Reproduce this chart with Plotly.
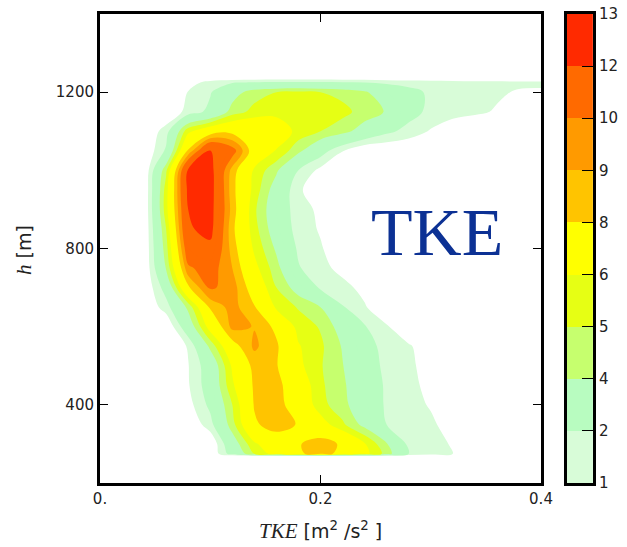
import plotly.graph_objects as go

# TKE bins (m^2/s^2) and height rows (m)
tke = [0.00, 0.02, 0.04, 0.06, 0.08, 0.10, 0.12, 0.14, 0.16, 0.18, 0.20,
       0.22, 0.24, 0.26, 0.28, 0.30, 0.32, 0.34, 0.36, 0.38, 0.40]
heights = [268, 275, 300, 350, 400, 450, 500, 550, 600, 650, 700, 750, 800,
           850, 900, 950, 1000, 1050, 1100, 1150, 1200, 1225, 1238]

# density values per height row (bottom to top)
d268 = [0] * 21
d275 = [0, 0, 0, 0, 0, 0, 2.6, 5.0, 6.6, 7.8, 8.5, 7.6, 6.4, 4.6, 2.0, 1.5, 1.0, 0, 0, 0, 0]
d300 = [0, 0, 0, 0, 0, 0, 3.2, 5.8, 7.0, 7.9, 8.6, 7.8, 6.1, 4.1, 1.7, 1.4, 0.9, 0, 0, 0, 0]
d350 = [0, 0, 0, 0, 0, 1.6, 4.6, 7.8, 8.6, 7.9, 6.6, 5.2, 3.6, 2.0, 1.5, 1.2, 0.5, 0, 0, 0, 0]
d400 = [0, 0, 0, 0, 0.6, 2.3, 5.0, 8.1, 8.5, 7.2, 5.4, 4.3, 3.2, 1.8, 1.4, 0.9, 0, 0, 0, 0, 0]
d450 = [0, 0, 0, 0, 0.9, 2.7, 5.8, 8.2, 8.4, 7.0, 5.2, 4.2, 3.0, 1.8, 1.3, 0.7, 0, 0, 0, 0, 0]
d500 = [0, 0, 0, 0, 0.95, 2.8, 6.2, 8.4, 8.1, 6.3, 5.1, 4.05, 2.7, 1.7, 1.2, 0.6, 0, 0, 0, 0, 0]
d550 = [0, 0, 0, 0, 1.1, 4.3, 7.4, 9.2, 8.2, 6.1, 5.2, 3.9, 2.5, 1.6, 1.1, 0.5, 0, 0, 0, 0, 0]
d600 = [0, 0, 0, 0, 3.0, 6.6, 9.3, 8.95, 7.7, 5.6, 4.9, 3.4, 2.1, 1.1, 0.3, 0, 0, 0, 0, 0, 0]
d650 = [0, 0, 0, 1.5, 4.3, 8.2, 9.4, 8.1, 5.8, 4.9, 4.0, 2.1, 1.1, 0.2, 0, 0, 0, 0, 0, 0, 0]
d700 = [0, 0, 0, 2.6, 7.8, 10.2, 9.5, 7.2, 5.0, 3.4, 1.8, 1.3, 0.7, 0, 0, 0, 0, 0, 0, 0, 0]
d750 = [0, 0, 0, 4.1, 9.8, 10.6, 9.0, 6.4, 4.4, 2.1, 1.3, 0.7, 0, 0, 0, 0, 0, 0, 0, 0, 0]
d800 = [0, 0, 0, 4.6, 11.0, 11.6, 8.6, 5.8, 3.8, 1.8, 1.1, 0.3, 0, 0, 0, 0, 0, 0, 0, 0, 0]
d850 = [0, 0, 0, 5.0, 11.8, 12.5, 8.3, 5.4, 3.2, 1.5, 0.9, 0, 0, 0, 0, 0, 0, 0, 0, 0, 0]
d900 = [0, 0, 0, 5.6, 12.0, 12.6, 8.6, 5.2, 3.0, 1.4, 0.8, 0, 0, 0, 0, 0, 0, 0, 0, 0, 0]
d950 = [0, 0, 0, 5.5, 12.4, 12.7, 8.4, 5.6, 3.3, 1.2, 0.2, 0, 0, 0, 0, 0, 0, 0, 0, 0, 0]
d1000 = [0, 0, 0, 4.8, 12.2, 12.6, 8.6, 5.8, 4.2, 2.0, 0.7, 0, 0, 0, 0, 0, 0, 0, 0, 0, 0]
d1050 = [0, 0, 0, 2.2, 8.2, 12.2, 10.6, 7.2, 5.9, 4.3, 2.6, 1.05, 0, 0, 0, 0, 0, 0, 0, 0, 0]
d1100 = [0, 0, 0, 1.5, 5.7, 7.2, 7.6, 7.7, 7.0, 5.6, 5.0, 4.4, 3.4, 2.3, 1.6, 0.9, 0.3, 0, 0, 0, 0]
d1150 = [0, 0, 0, 0, 1.4, 2.3, 4.5, 5.3, 5.6, 5.7, 5.6, 5.3, 4.6, 3.9, 2.5, 1.7, 1.4, 1.2, 0.9, 0.3, 0]
d1200 = [0, 0, 0, 0, 1.05, 1.9, 3.4, 4.6, 5.0, 5.2, 5.0, 4.7, 4.2, 3.0, 2.4, 1.8, 1.5, 1.3, 1.15, 0.9, 0.85]
d1225 = [0, 0, 0, 0, 0.5, 1.4, 1.9, 2.1, 2.2, 2.2, 2.2, 2.1, 2.0, 1.8, 1.6, 1.5, 1.4, 1.3, 1.3, 1.2, 1.2]
d1238 = [0] * 21

density = [d268, d275, d300, d350, d400, d450, d500, d550, d600, d650, d700,
           d750, d800, d850, d900, d950, d1000, d1050, d1100, d1150, d1200,
           d1225, d1238]

# colour bar levels and band colours
cbar_levels = [1, 2, 4, 5, 6, 8, 9, 10, 12, 13]
band_colors = ["#d8fcd8", "#b8fcc0", "#c6ff6e", "#e6ff14", "#ffff00",
               "#ffc400", "#ff9a00", "#ff6a00", "#ff2a00"]

# colour of each unit band k..k+1 (k = 0..13) for contour levels 1..13 step 1
unit_colors = ["#ffffff"]
for k in range(1, 13):
    for i in range(len(cbar_levels) - 1):
        if cbar_levels[i] <= k < cbar_levels[i + 1]:
            unit_colors.append(band_colors[i])
unit_colors.append(band_colors[-1])
cscale = [[k / 13, c] for k, c in enumerate(unit_colors)]

fig = go.Figure()
fig.add_trace(go.Contour(
    x=tke, y=heights, z=density,
    contours=dict(start=1, end=13, size=1, coloring="fill", showlines=False),
    line=dict(width=0),
    colorscale=cscale, showscale=False, hoverinfo="skip",
    xaxis="x", yaxis="y",
))

# separate discrete colour bar
nb = len(band_colors)
cb_scale = []
for i, c in enumerate(band_colors):
    cb_scale.append([i / nb, c])
    cb_scale.append([(i + 1) / nb, c])
fig.add_trace(go.Heatmap(
    z=[[i] for i in range(nb)], x=[0], y=list(range(nb)),
    colorscale=cb_scale, zmin=-0.5, zmax=nb - 0.5, showscale=False,
    hoverinfo="skip", xaxis="x2", yaxis="y2",
))

tickfont = dict(family="DejaVu Sans", size=15, color="#222222")
axis_common = dict(showgrid=False, zeroline=False, showline=True, linewidth=3,
                   linecolor="black", ticks="inside", ticklen=8, tickwidth=1,
                   tickcolor="black", tickfont=tickfont, automargin=False)

serif_span = '<span style="font-family:\'Liberation Serif\'; font-size:21px"><i>{}</i></span>'

fig.update_layout(
    width=627, height=547,
    margin=dict(l=100, r=34, t=14, b=64, autoexpand=False),
    paper_bgcolor="white", plot_bgcolor="white",
    showlegend=False,
    xaxis=dict(domain=[0, 0.8945], range=[0, 0.4], tickvals=[0, 0.2, 0.4],
               ticktext=["0.", "0.2", "0.4"], mirror="allticks", anchor="y",
               **axis_common),
    yaxis=dict(domain=[0, 1], range=[200, 1400], tickvals=[400, 800, 1200],
               mirror="allticks", anchor="x", **axis_common),
    xaxis2=dict(domain=[0.947, 1.0], range=[-0.5, 0.5], showticklabels=False,
                showgrid=False, zeroline=False, showline=True, linewidth=3,
                linecolor="black", mirror=True, ticks="", anchor="y2",
                automargin=False),
    yaxis2=dict(domain=[0, 1], range=[-0.5, nb - 0.5], side="right",
                tickvals=[i - 0.5 for i in range(nb + 1)],
                ticktext=[str(v) for v in cbar_levels],
                showgrid=False, zeroline=False, showline=True, linewidth=3,
                linecolor="black", mirror=True, ticks="inside", ticklen=11,
                tickwidth=1, tickcolor="black", tickfont=tickfont, anchor="x2",
                automargin=False),
    annotations=[
        dict(text="TKE", x=0.306, y=841, xref="x", yref="y", showarrow=False,
             xanchor="center", yanchor="middle",
             font=dict(family="Liberation Serif", size=68, color="#0c3194")),
        dict(text=serif_span.format("TKE") + ' [m<sup>2</sup> /s<sup>2</sup> ]',
             x=(320 - 100) / 493, y=(483 - 530) / 469, xref="paper", yref="paper",
             xanchor="center", yanchor="middle", showarrow=False,
             font=dict(family="DejaVu Sans", size=19, color="#222222")),
        dict(text=serif_span.format("h") + ' [m]',
             x=(24 - 100) / 493, y=(483 - 250) / 469, xref="paper", yref="paper",
             xanchor="center", yanchor="middle", textangle=-90, showarrow=False,
             font=dict(family="DejaVu Sans", size=19, color="#222222")),
    ],
)

fig.write_html("out.html", config={"displayModeBar": False},
               post_script="document.body.style.margin='0px';")
